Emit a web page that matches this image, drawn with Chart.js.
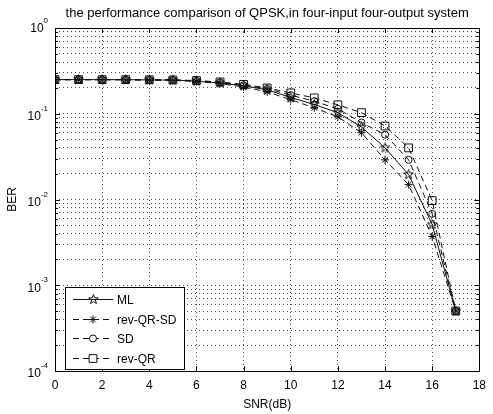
<!DOCTYPE html>
<html><head><meta charset="utf-8">
<script src="https://cdn.jsdelivr.net/npm/chart.js@4.4.0/dist/chart.umd.min.js"></script>
<style>html,body{margin:0;padding:0;background:#fff;overflow:hidden}</style>
</head><body>
<canvas id="c" width="493" height="414"></canvas>
<script>
// ---- data ----
const snr = [0,1,2,3,4,5,6,7,8,9,10,11,12,13,14,15,16,17];
const berML      = [0.25,0.25,0.25,0.25,0.248,0.247,0.240,0.228,0.212,0.190,0.155,0.128,0.103,0.070,0.040,0.0195,0.0051,0.0005];
const berRevQRSD = [0.25,0.25,0.25,0.248,0.247,0.245,0.238,0.225,0.205,0.180,0.146,0.117,0.092,0.060,0.029,0.0149,0.0037,0.0005];
const berSD      = [0.25,0.25,0.25,0.25,0.249,0.248,0.242,0.232,0.215,0.195,0.165,0.140,0.114,0.079,0.057,0.029,0.0068,0.0005];
const berRevQR   = [0.25,0.25,0.25,0.25,0.249,0.248,0.244,0.235,0.220,0.200,0.175,0.153,0.127,0.103,0.072,0.040,0.0097,0.0005];
const seriesLabels = ['ML','rev-QR-SD','SD','rev-QR'];
const xTicks = [0,2,4,6,8,10,12,14,16,18];
const yMajorTicks = [1e-4,1e-3,1e-2,1e-1,1];
const yTickExponents = ['-4','-3','-2','-1','0'];
const titleText = 'the performance comparison of QPSK,in four-input four-output system';

const FONT = '"Liberation Sans", Arial, "DejaVu Sans", sans-serif';

// pentagram marker image
function pentagram(r){
  const s = Math.ceil(r*2+3);
  const cv = document.createElement('canvas'); cv.width = s; cv.height = s;
  const g = cv.getContext('2d'); const c = s/2; const ri = r*0.42;
  g.beginPath();
  for (let i=0;i<10;i++){
    const a = -Math.PI/2 + i*Math.PI/5; const rr = i%2===0 ? r : ri;
    const px = c + rr*Math.cos(a), py = c + rr*Math.sin(a);
    if(i===0) g.moveTo(px,py); else g.lineTo(px,py);
  }
  g.closePath(); g.strokeStyle='#111'; g.lineWidth=1; g.stroke();
  return cv;
}
const starImg = pentagram(5);

function pts(arr){ return snr.map((x,i)=>({x:x,y:arr[i]})); }

const ds = [
  {label:seriesLabels[0], data:pts(berML), borderColor:'#111', borderWidth:1, pointStyle:starImg, pointRadius:5, pointBorderColor:'#111', pointBackgroundColor:'transparent', borderDash:[]},
  {label:seriesLabels[1], data:pts(berRevQRSD), borderColor:'#111', borderWidth:1, pointStyle:'star', pointRadius:4, pointBorderColor:'#111', pointBackgroundColor:'transparent', borderDash:[6,4]},
  {label:seriesLabels[2], data:pts(berSD), borderColor:'#111', borderWidth:1, pointStyle:'circle', pointRadius:3.5, pointBorderColor:'#111', pointBackgroundColor:'transparent', borderDash:[6,4]},
  {label:seriesLabels[3], data:pts(berRevQR), borderColor:'#111', borderWidth:1, pointStyle:'rect', pointRadius:5.5, pointBorderColor:'#111', pointBackgroundColor:'transparent', borderDash:[6,4]}
];
ds.forEach(d=>{d.fill=false; d.tension=0; d.pointBorderWidth=1; d.pointHoverRadius=d.pointRadius;});

const framePlugin = {
  id:'frame',
  afterDraw(chart){
    const ctx = chart.ctx, a = chart.chartArea;
    const xs = chart.scales.x, ys = chart.scales.y;
    ctx.save();
    // title
    ctx.fillStyle='#000'; ctx.font='13px '+FONT; ctx.textAlign='center'; ctx.textBaseline='middle';
    ctx.fillText(titleText, (a.left+a.right)/2, 13);
    // y tick labels: "10" with superscript exponent
    yMajorTicks.forEach((v,i)=>{
      const py = ys.getPixelForValue(v);
      const cy = i===yMajorTicks.length-1 ? py+1 : py+3;
      const exp = yTickExponents[i];
      ctx.font='8px '+FONT;
      const ew = ctx.measureText(exp).width;
      const baseRight = a.left - 7 - ew;
      ctx.textAlign='left'; ctx.textBaseline='middle';
      ctx.fillText(exp, baseRight, cy-8);
      ctx.font='12px '+FONT; ctx.textAlign='right';
      ctx.fillText('10', baseRight, cy);
    });
    // frame
    ctx.strokeStyle='#000'; ctx.lineWidth=1; ctx.setLineDash([]);
    ctx.strokeRect(Math.round(a.left)+0.5, Math.round(a.top)+0.5, Math.round(a.right-a.left), Math.round(a.bottom-a.top));
    ctx.beginPath();
    xTicks.forEach(v=>{
      const px = Math.round(xs.getPixelForValue(v))+0.5;
      ctx.moveTo(px,a.bottom); ctx.lineTo(px,a.bottom-5);
      ctx.moveTo(px,a.top); ctx.lineTo(px,a.top+5);
    });
    ys.ticks.forEach(t=>{
      const py = Math.round(ys.getPixelForValue(t.value))+0.5;
      const L = t.major ? 5 : 3;
      ctx.moveTo(a.left,py); ctx.lineTo(a.left+L,py);
      ctx.moveTo(a.right,py); ctx.lineTo(a.right-L,py);
    });
    ctx.stroke();
    // legend
    const lx=65, ly=287, lw=119, lh=82;
    ctx.fillStyle='#fff'; ctx.fillRect(lx,ly,lw,lh);
    ctx.strokeStyle='#000'; ctx.strokeRect(lx+0.5,ly+0.5,lw,lh);
    const rows=[299,319,338,358];
    chart.data.datasets.forEach((d,i)=>{
      const y = rows[i]+0.5;
      ctx.strokeStyle='#111'; ctx.lineWidth=1; ctx.setLineDash(d.borderDash||[]);
      ctx.beginPath(); ctx.moveTo(73,y); ctx.lineTo(113,y); ctx.stroke();
      ctx.setLineDash([]);
      const mx=93;
      ctx.beginPath();
      if (d.pointStyle==='star'){ const r=4; const q=r*Math.SQRT1_2;
        ctx.moveTo(mx-r,y);ctx.lineTo(mx+r,y);ctx.moveTo(mx,y-r);ctx.lineTo(mx,y+r);
        ctx.moveTo(mx-q,y-q);ctx.lineTo(mx+q,y+q);ctx.moveTo(mx-q,y+q);ctx.lineTo(mx+q,y-q); ctx.stroke(); }
      else if (d.pointStyle==='circle'){ ctx.fillStyle='#fff'; ctx.arc(mx,y,3.5,0,Math.PI*2); ctx.fill(); ctx.stroke(); }
      else if (d.pointStyle==='rect'){ const s=5.5*Math.SQRT1_2; ctx.fillStyle='#fff'; ctx.rect(mx-s,y-s,2*s,2*s); ctx.fill(); ctx.stroke(); }
      else { ctx.drawImage(d.pointStyle, Math.round(mx-d.pointStyle.width/2), Math.round(y-d.pointStyle.height/2)); }
      ctx.fillStyle='#000'; ctx.font='12px '+FONT; ctx.textAlign='left'; ctx.textBaseline='middle';
      ctx.fillText(d.label, 117, y+1);
    });
    ctx.restore();
  }
};

new Chart(document.getElementById('c'), {
  type:'line',
  data:{datasets:ds},
  plugins:[framePlugin],
  options:{
    responsive:false, animation:false, devicePixelRatio:1,
    layout:{padding:{top:28,right:8,left:0,bottom:0}},
    plugins:{legend:{display:false}, tooltip:{enabled:false}, title:{display:false}},
    elements:{line:{borderJoinStyle:'miter'}},
    scales:{
      x:{type:'linear', min:0, max:18,
        afterFit(s){ s.height = 43; },
        afterBuildTicks(s){ s.ticks = xTicks.map(v=>({value:v})); },
        ticks:{color:'#000', font:{size:12, family:FONT}, padding:7, autoSkip:false, maxRotation:0},
        grid:{color:'rgba(0,0,0,0.7)', lineWidth:1, drawTicks:false},
        border:{display:false, dash:[1,3]},
        title:{display:true, text:'SNR(dB)', color:'#000', font:{size:12, family:FONT}, padding:{top:0,bottom:2}}
      },
      y:{type:'logarithmic', min:1e-4, max:1,
        afterFit(s){ s.width = 55; },
        afterBuildTicks(s){
          const t=[];
          for(let k=0;k<yMajorTicks.length;k++){
            const base=yMajorTicks[k];
            t.push({value:base, major:true});
            if(k<yMajorTicks.length-1){ for(let m=2;m<=9;m++) t.push({value:base*m, major:false}); }
          }
          s.ticks=t;
        },
        ticks:{display:false, autoSkip:false},
        grid:{color:'rgba(0,0,0,0.7)', lineWidth:1, drawTicks:false},
        border:{display:false, dash:[1,3]},
        title:{display:true, text:'BER', color:'#000', font:{size:12, family:FONT}, padding:{top:5,bottom:0}}
      }
    }
  }
});
</script>
</body></html>
